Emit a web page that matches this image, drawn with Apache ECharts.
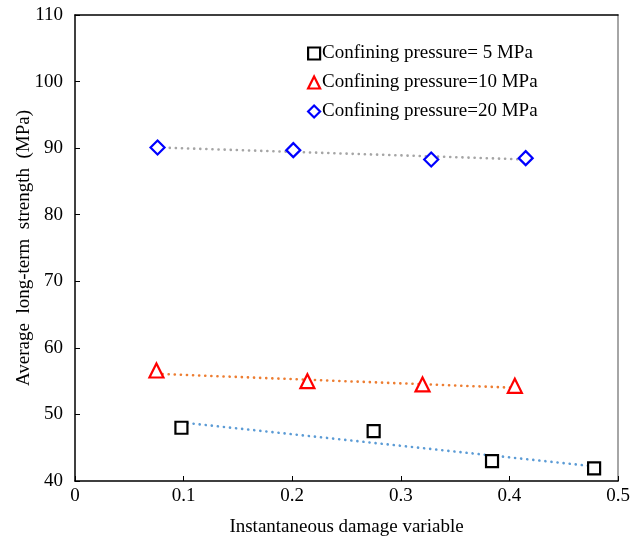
<!DOCTYPE html>
<html>
<head>
<meta charset="utf-8">
<script src="https://cdn.jsdelivr.net/npm/echarts@6/dist/echarts.min.js"></script>
<style>
  html, body { margin: 0; padding: 0; background: #fff; }
  #chart { width: 632px; height: 539px; }
</style>
</head>
<body>
<div id="chart"></div>
<script>
// Instantaneous damage variable (x) vs average long-term strength (MPa)
const names = ['Confining pressure= 5 MPa', 'Confining pressure=10 MPa', 'Confining pressure=20 MPa'];

const damage5 = [0.098, 0.275, 0.384, 0.478];
const strength5 = [48.0, 47.5, 43.0, 41.9];

const damage10 = [0.075, 0.214, 0.320, 0.405];
const strength10 = [56.6, 55.0, 54.5, 54.3];

const damage20 = [0.076, 0.201, 0.328, 0.415];
const strength20 = [90.1, 89.7, 88.3, 88.5];

// Linear trend line end points for each pressure level
const trend5 = [[0.098, 48.8], [0.478, 42.2]];
const trend10 = [[0.075, 56.1], [0.405, 54.0]];
const trend20 = [[0.076, 90.1], [0.415, 88.3]];

const xTicks = [0, 0.1, 0.2, 0.3, 0.4, 0.5];
const yTicks = [40, 50, 60, 70, 80, 90, 100, 110];

const FONT = 'Liberation Serif';
const FS = 19;

function pairs(xs, ys) { return xs.map((x, i) => [x, ys[i]]); }

const markerStyles = [
  { symbol: 'rect', size: 12, color: '#000000' },
  { symbol: 'triangle', size: 14, color: '#ff0000' },
  { symbol: 'diamond', size: 14, color: '#0000ff' }
];
const trendColors = ['#5b9bd5', '#ed7d31', '#a5a5a5'];

const scatterData = [pairs(damage5, strength5), pairs(damage10, strength10), pairs(damage20, strength20)];
const trendData = [trend5, trend10, trend20];

const series = [];
trendData.forEach((d, i) => {
  series.push({
    type: 'line',
    name: 'trend' + i,
    data: d,
    showSymbol: false,
    symbol: 'none',
    silent: true,
    z: 1,
    lineStyle: { color: trendColors[i], width: 2.6, type: [0.1, 6], cap: 'round' }
  });
});
scatterData.forEach((d, i) => {
  const m = markerStyles[i];
  series.push({
    type: 'scatter',
    name: names[i],
    data: d,
    symbol: m.symbol,
    symbolSize: m.size,
    z: 3,
    itemStyle: { color: '#ffffff', borderColor: m.color, borderWidth: 2.2, opacity: 1 }
  });
});

const chart = echarts.init(document.getElementById('chart'), null, { renderer: 'canvas' });
chart.setOption({
  animation: false,
  backgroundColor: '#ffffff',
  textStyle: { fontFamily: FONT, color: '#000' },
  grid: { left: 75, right: 14, top: 15, bottom: 58, containLabel: false, outerBoundsMode: 'none' },
  legend: {
    data: names.map((n, i) => ({ name: n, icon: markerStyles[i].symbol })),
    orient: 'vertical',
    left: 302,
    top: 39,
    itemWidth: 12,
    itemHeight: 12,
    itemGap: 10,
    textStyle: { fontFamily: FONT, fontSize: FS, lineHeight: 19, color: '#000', padding: [0, 0, 0, -3] },
    itemStyle: { color: '#fff', borderWidth: 2.2 }
  },
  xAxis: [{
    type: 'value',
    min: 0,
    max: 0.5,
    interval: 0.1,
    name: 'Instantaneous damage variable',
    nameLocation: 'middle',
    nameGap: 37,
    nameMoveOverlap: false,
    nameTextStyle: { fontFamily: FONT, fontSize: FS, color: '#000' },
    axisLine: { show: true, onZero: false, lineStyle: { color: '#000', width: 1.5 } },
    axisTick: { show: true, inside: true, length: 5, lineStyle: { color: '#000', width: 1 } },
    axisLabel: { fontFamily: FONT, fontSize: FS, color: '#000', margin: 6,
      formatter: v => xTicks.includes(+v.toFixed(1)) ? String(+v.toFixed(1)) : '' },
    splitLine: { show: false }
  }, {
    type: 'value',
    position: 'top',
    min: 0,
    max: 0.5,
    axisLine: { show: true, onZero: false, lineStyle: { color: '#000', width: 1.5 } },
    axisTick: { show: false },
    axisLabel: { show: false },
    splitLine: { show: false }
  }],
  yAxis: [{
    type: 'value',
    min: 40,
    max: 110,
    interval: 10,
    name: 'Average  long-term  strength  (MPa)',
    nameLocation: 'middle',
    nameGap: 41,
    nameMoveOverlap: false,
    nameTextStyle: { fontFamily: FONT, fontSize: FS, color: '#000' },
    axisLine: { show: true, onZero: false, lineStyle: { color: '#000', width: 1.5 } },
    axisTick: { show: true, inside: true, length: 5, lineStyle: { color: '#000', width: 1 } },
    axisLabel: { fontFamily: FONT, fontSize: FS, color: '#000', margin: 12,
      formatter: v => yTicks.includes(v) ? String(v) : '' },
    splitLine: { show: false }
  }, {
    type: 'value',
    position: 'right',
    min: 40,
    max: 110,
    axisLine: { show: true, onZero: false, lineStyle: { color: '#888888', width: 1.5 } },
    axisTick: { show: false },
    axisLabel: { show: false },
    splitLine: { show: false }
  }],
  series: series
});
</script>
</body>
</html>
